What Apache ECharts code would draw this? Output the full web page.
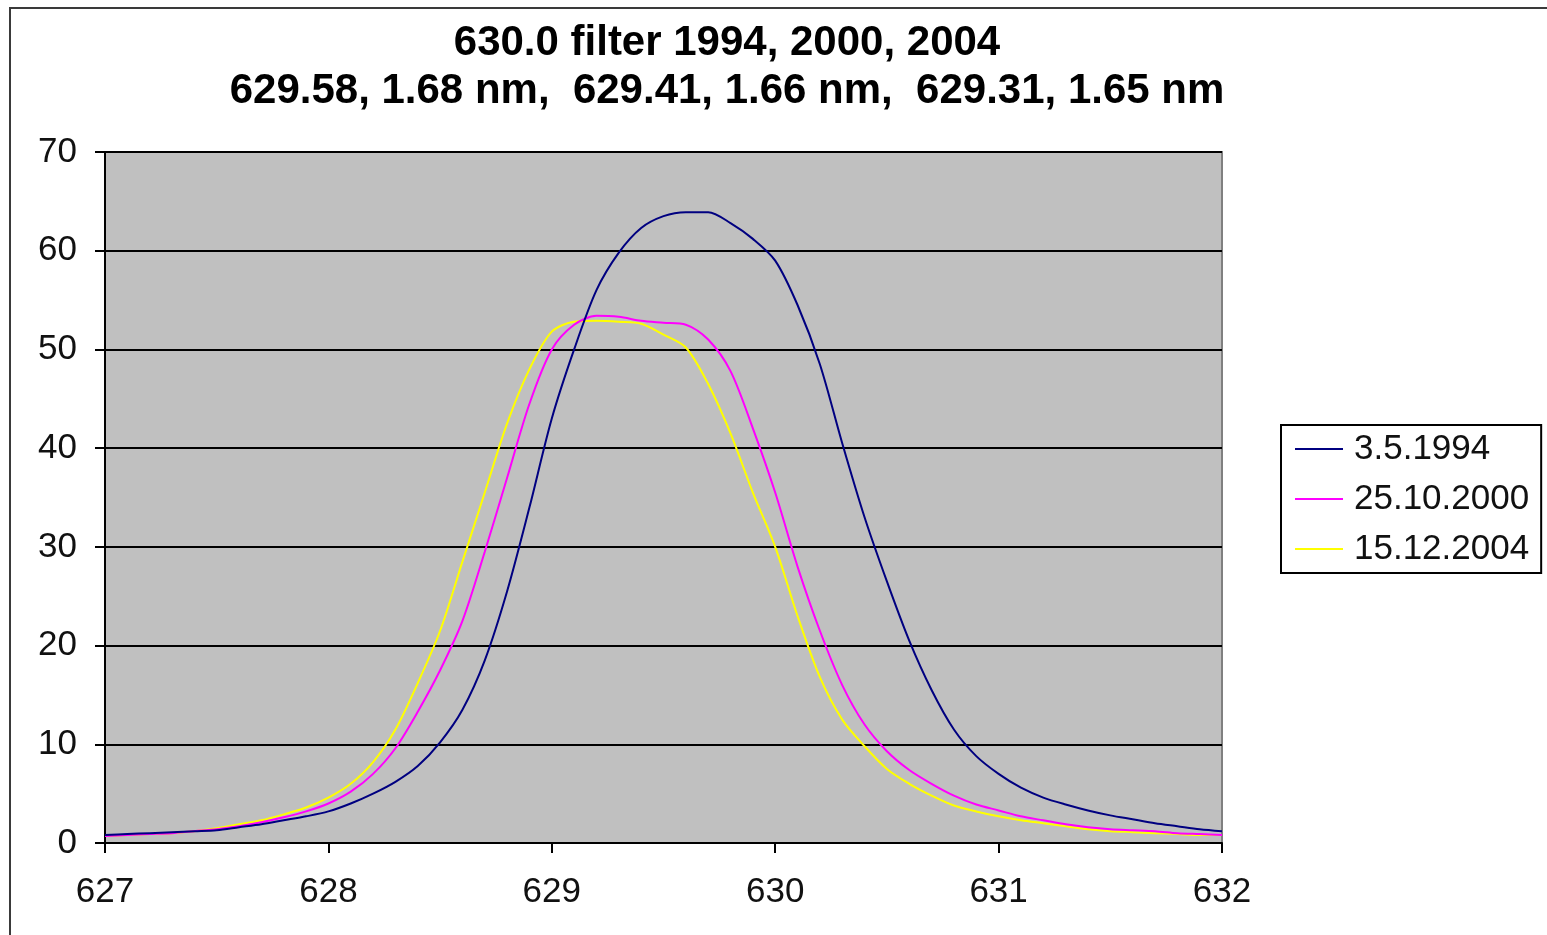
<!DOCTYPE html>
<html>
<head>
<meta charset="utf-8">
<title>630.0 filter 1994, 2000, 2004</title>
<script src="https://cdn.jsdelivr.net/npm/echarts@6/dist/echarts.min.js"></script>
<style>
  html, body { margin: 0; padding: 0; background: #fff; }
  #chart { width: 1547px; height: 935px; }
</style>
</head>
<body>
<div id="chart"></div>
<script>
// Wavelength grid (nm), 0.1 nm steps
const wavelength = [
  627.0, 627.1, 627.2, 627.3, 627.4, 627.5, 627.6, 627.7, 627.8, 627.9,
  628.0, 628.1, 628.2, 628.3, 628.4, 628.5, 628.6, 628.7, 628.8, 628.9,
  629.0, 629.1, 629.2, 629.3, 629.4, 629.5, 629.6, 629.7, 629.8, 629.9,
  630.0, 630.1, 630.2, 630.3, 630.4, 630.5, 630.6, 630.7, 630.8, 630.9,
  631.0, 631.1, 631.2, 631.3, 631.4, 631.5, 631.6, 631.7, 631.8, 631.9,
  632.0
];

// Transmission (%) for each measurement date
const trans1994 = [
  0.8, 0.9, 1.0, 1.1, 1.2, 1.3, 1.6, 1.9, 2.3, 2.7,
  3.2, 4.0, 5.0, 6.2, 7.8, 10.2, 13.5, 18.5, 25.5, 34,
  43, 50, 56, 59.8, 62.3, 63.5, 63.9, 63.9, 62.8, 61.2,
  59, 54.5, 48.5, 40.5, 33, 26.5, 20.5, 15.5, 11.5, 8.8,
  7.0, 5.6, 4.6, 3.9, 3.3, 2.8, 2.4, 2.0, 1.7, 1.4,
  1.2
];
const trans2000 = [
  0.7, 0.8, 0.9, 1.0, 1.2, 1.4, 1.7, 2.1, 2.6, 3.2,
  4.0, 5.2, 7.0, 9.6, 13.3, 17.5, 22.5, 29.5, 37, 44.5,
  50, 52.5, 53.4, 53.3, 52.9, 52.7, 52.5, 51, 47.8, 42,
  35.5, 28, 21.5, 16, 12, 9.3, 7.4, 6.0, 4.8, 3.9,
  3.3, 2.7, 2.3, 1.9, 1.6, 1.4, 1.3, 1.2, 1.0, 0.9,
  0.8
];
const trans2004 = [
  0.7, 0.8, 0.9, 1.0, 1.2, 1.5, 1.9, 2.3, 2.9, 3.6,
  4.6, 6.0, 8.2, 11.5, 16.2, 21.5, 28.5, 35.5, 42.5, 48,
  51.8, 52.8, 52.9, 52.8, 52.6, 51.5, 50.2, 46.5, 41.5, 35.5,
  30, 23, 16.8, 12.5, 9.8, 7.5, 6.0, 4.8, 3.8, 3.2,
  2.7, 2.3, 2.0, 1.7, 1.4, 1.2, 1.1, 1.0, 0.9, 0.8,
  0.8
];

const seriesNames = ['3.5.1994', '25.10.2000', '15.12.2004'];
const seriesColors = ['#000080', '#ff00ff', '#ffff00'];
const seriesValues = [trans1994, trans2000, trans2004];

const titleLines = [
  '630.0 filter 1994, 2000, 2004',
  '629.58, 1.68 nm,  629.41, 1.66 nm,  629.31, 1.65 nm'
];

const FONT = '"Liberation Sans", Arial, sans-serif';

const chart = echarts.init(document.getElementById('chart'), null, { renderer: 'canvas' });

const option = {
  backgroundColor: '#ffffff',
  animation: false,
  title: {
    text: titleLines.join('\n'),
    left: 722,
    top: 14,
    textAlign: 'center',
    textStyle: {
      fontFamily: FONT,
      fontWeight: 'bold',
      fontSize: 42,
      lineHeight: 48,
      color: '#000'
    }
  },
  graphic: [{
    type: 'rect',
    shape: { x: 10, y: 8, width: 1560, height: 960 },
    style: { fill: 'none', stroke: '#3a3a3a', lineWidth: 2 },
    silent: true,
    z: -1
  }],
  legend: {
    orient: 'vertical',
    left: 1281,
    top: 425,
    padding: [4, 12, 4, 14],
    itemGap: 10,
    icon: 'rect',
    itemWidth: 48,
    itemHeight: 2,
    backgroundColor: '#ffffff',
    borderColor: '#000000',
    borderWidth: 2,
    borderRadius: 0,
    textStyle: {
      fontFamily: FONT,
      fontSize: 35,
      lineHeight: 40,
      color: '#111',
      padding: [0, 0, 0, 6]
    },
    data: seriesNames
  },
  grid: {
    left: 105,
    top: 152,
    width: 1117,
    height: 691,
    show: true,
    backgroundColor: '#c0c0c0',
    borderColor: '#808080',
    borderWidth: 2
  },
  xAxis: {
    type: 'value',
    min: 627,
    max: 632,
    interval: 1,
    axisLine: { show: true, onZero: false, lineStyle: { color: '#000', width: 2 } },
    axisTick: { show: true, inside: false, length: 10, lineStyle: { color: '#000', width: 2 } },
    axisLabel: {
      margin: 32,
      fontFamily: FONT,
      fontSize: 35,
      color: '#111'
    },
    splitLine: { show: false }
  },
  yAxis: {
    type: 'value',
    min: 0,
    max: 70,
    interval: 10,
    axisLine: { show: true, lineStyle: { color: '#000', width: 2 } },
    axisTick: { show: true, inside: false, length: 10, lineStyle: { color: '#000', width: 2 } },
    axisLabel: {
      margin: 28,
      fontFamily: FONT,
      fontSize: 35,
      color: '#111'
    },
    splitLine: { show: true, lineStyle: { color: '#000', width: 2 } }
  },
  series: seriesNames.map((name, i) => ({
    name: name,
    type: 'line',
    data: wavelength.map((w, k) => [w, seriesValues[i][k]]),
    symbol: 'none',
    smooth: 0.3,
    color: seriesColors[i],
    lineStyle: { color: seriesColors[i], width: 2 },
    z: 3 - i
  }))
};

chart.setOption(option);
</script>
</body>
</html>
